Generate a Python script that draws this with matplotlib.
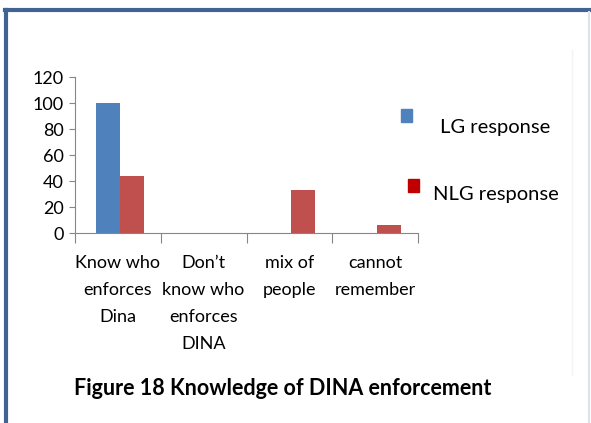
import matplotlib.pyplot as plt
from matplotlib.patches import Rectangle
from matplotlib.lines import Line2D
from matplotlib import font_manager

# data
categories = ['Know who\nenforces\nDina', 'Don\u2019t\nknow who\nenforces\nDINA',
              'mix of\npeople', 'cannot\nremember']
lg_response = [100, 0, 0, 0]
nlg_response = [44, 0, 33, 6]
yticks = [0, 20, 40, 60, 80, 100, 120]

names = {f.name for f in font_manager.fontManager.ttflist}
font = 'Lato' if 'Lato' in names else 'DejaVu Sans'
plt.rcParams['font.family'] = font

fig = plt.figure(figsize=(5.91, 4.23), dpi=100)

# frame around the figure
W, H = 591, 423
fig.add_artist(Line2D([5 / W, 1], [1 - 10 / H, 1 - 10 / H], color='#3f6494', lw=3))
fig.add_artist(Line2D([6 / W, 6 / W], [0, 1 - 10 / H], color='#3f6494', lw=3))
fig.add_artist(Line2D([589 / W, 589 / W], [0, 1 - 12 / H], color='#dde3ec', lw=1.5))
fig.add_artist(Line2D([572 / W, 572 / W], [48 / H, 1 - 50 / H], color='#f3f3f3', lw=1))

ax = fig.add_axes([75 / W, 1 - 233 / H, 343 / W, 156 / H])

x = list(range(len(categories)))
w = 0.28
ax.bar([i - w / 2 + 0.02 for i in x], lg_response, width=w, color='#4f81bd', linewidth=0)
ax.bar([i + w / 2 + 0.02 for i in x], nlg_response, width=w, color='#c0504d', linewidth=0)

ax.set_xlim(-0.5, len(categories) - 0.5)
ax.set_ylim(0, 120)
ax.set_yticks(yticks)
ax.tick_params(axis='y', labelsize=13, length=4, color='#868686', pad=4)

ax.set_xticks([i - 0.5 for i in range(len(categories) + 1)])
ax.set_xticklabels([])
ax.tick_params(axis='x', which='major', length=7, color='#868686')
ax.set_xticks(x, minor=True)
ax.set_xticklabels(categories, minor=True, fontsize=13, linespacing=1.85, va='top')
ax.tick_params(axis='x', which='minor', length=0, pad=16)

for s in ['top', 'right']:
    ax.spines[s].set_visible(False)
ax.spines['left'].set_color('#868686')
ax.spines['bottom'].set_color('#868686')

# legend
fig.add_artist(Rectangle((401 / W, 1 - 122 / H), 11 / W, 13 / H, color='#4f81bd'))
fig.add_artist(Rectangle((408 / W, 1 - 192 / H), 11 / W, 13 / H, color='#c00000'))
fig.text(440 / W, 1 - 128 / H, 'LG response', fontsize=14.5, va='center')
fig.text(433 / W, 1 - 194 / H, 'NLG response', fontsize=14.5, va='center')

fig.text(283 / W, 1 - 388 / H, 'Figure 18 Knowledge of DINA enforcement',
         fontsize=15.5, fontweight='bold', ha='center', va='center')

fig.savefig('out.png', dpi=100)
